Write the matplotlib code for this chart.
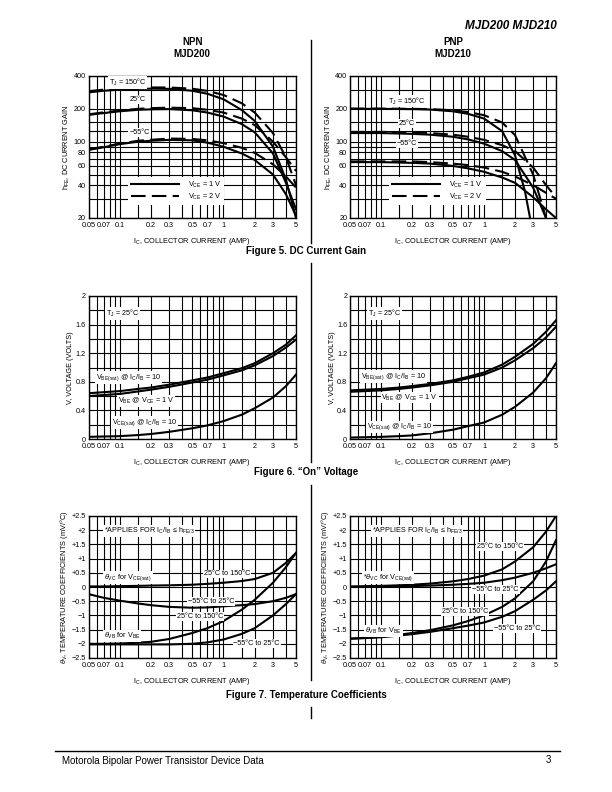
import matplotlib
matplotlib.use("Agg")
import matplotlib.pyplot as plt
from matplotlib.lines import Line2D
from matplotlib.ticker import NullFormatter

plt.rcParams['font.family'] = ['Liberation Sans', 'DejaVu Sans']
plt.rcParams['mathtext.fontset'] = 'custom'
plt.rcParams['mathtext.rm'] = 'Liberation Sans'
plt.rcParams['mathtext.it'] = 'Liberation Sans:italic'
plt.rcParams['mathtext.bf'] = 'Liberation Sans:bold'

# ---------------- data ----------------
IC = [0.05, 0.07, 0.1, 0.15, 0.2, 0.3, 0.5, 0.7, 1.0, 1.5, 2.0, 3.0, 4.0, 5.0]

# Figure 5, NPN MJD200 hFE
NPN_150_1V = [283, 293, 300, 305, 306, 305, 293, 275, 245, 195, 155, 90, 45, 20]
NPN_150_2V = [290, 300, 307, 312, 314, 314, 306, 292, 268, 225, 185, 120, 72, 40]
NPN_25_1V = [176, 183, 190, 196, 198, 199, 194, 185, 170, 145, 122, 78, 42, 24]
NPN_25_2V = [178, 186, 193, 200, 203, 205, 203, 196, 185, 163, 142, 100, 72, 54]
NPN_M55_1V = [84, 89, 95, 100, 102, 104, 103, 98, 90, 78, 68, 50, 33, 21]
NPN_M55_2V = [85, 90, 96, 102, 104, 107, 106, 103, 97, 88, 79, 62, 48, 38]

# Figure 5, PNP MJD210 hFE (curves leave the bottom of the chart early)
PNP_150_1V_IC = [0.05, 0.1, 0.2, 0.3, 0.5, 0.7, 1.0, 1.5, 2.0, 2.5, 2.8]
PNP_150_1V = [200, 200, 199, 197, 190, 180, 163, 125, 75, 35, 20]
PNP_150_2V_IC = [0.05, 0.1, 0.2, 0.3, 0.5, 0.7, 1.0, 1.5, 2.0, 3.0, 4.0]
PNP_150_2V = [201, 201, 200, 199, 194, 187, 175, 150, 115, 50, 20]
PNP_25_1V_IC = [0.05, 0.1, 0.2, 0.3, 0.5, 0.7, 1.0, 1.5, 2.0, 3.0, 4.0]
PNP_25_1V = [120, 120, 118, 116, 111, 105, 96, 82, 68, 38, 20]
PNP_25_2V_IC = [0.05, 0.1, 0.2, 0.3, 0.5, 0.7, 1.0, 1.5, 2.0, 3.0, 4.0, 5.0]
PNP_25_2V = [123, 123, 122, 120, 116, 111, 104, 93, 82, 58, 40, 31]
PNP_M55_1V_IC = [0.05, 0.1, 0.2, 0.3, 0.5, 0.7, 1.0, 1.5, 2.0, 3.0, 4.0, 5.0]
PNP_M55_1V = [65, 65, 64, 63, 60, 57, 53, 47, 42, 31, 24, 20]
PNP_M55_2V_IC = [0.05, 0.1, 0.2, 0.3, 0.5, 0.7, 1.0, 1.5, 2.0, 3.0, 4.0, 5.0]
PNP_M55_2V = [66, 66, 66, 65, 63, 61, 58, 53, 48, 40, 34, 30]

# Figure 6, "On" voltage
NPN_VBESAT = [0.64, 0.655, 0.67, 0.70, 0.72, 0.76, 0.82, 0.86, 0.92, 0.99, 1.06, 1.20, 1.32, 1.45]
NPN_VBE = [0.60, 0.615, 0.63, 0.665, 0.69, 0.73, 0.79, 0.83, 0.89, 0.96, 1.03, 1.16, 1.28, 1.39]
NPN_VCESAT = [0.03, 0.035, 0.04, 0.055, 0.07, 0.10, 0.15, 0.19, 0.25, 0.34, 0.43, 0.58, 0.74, 0.90]
PNP_VBESAT = [0.68, 0.69, 0.70, 0.72, 0.74, 0.77, 0.82, 0.87, 0.93, 1.04, 1.15, 1.33, 1.50, 1.66]
PNP_VBE = [0.66, 0.67, 0.68, 0.70, 0.72, 0.75, 0.80, 0.85, 0.90, 1.00, 1.10, 1.27, 1.42, 1.57]
PNP_VCESAT = [0.02, 0.025, 0.03, 0.04, 0.05, 0.08, 0.13, 0.18, 0.23, 0.34, 0.45, 0.65, 0.85, 1.06]

# Figure 7, temperature coefficients (mV/C)
NPN_TVC_HOT = [0.02, 0.02, 0.03, 0.04, 0.05, 0.06, 0.08, 0.11, 0.15, 0.21, 0.28, 0.50, 0.85, 1.20]
NPN_TVC_COLD = [-0.25, -0.38, -0.48, -0.58, -0.64, -0.70, -0.73, -0.72, -0.68, -0.64, -0.60, -0.50, -0.38, -0.25]
NPN_TVB_HOT = [-2.0, -2.0, -1.99, -1.96, -1.93, -1.83, -1.62, -1.45, -1.20, -0.80, -0.45, 0.15, 0.70, 1.20]
NPN_TVB_COLD = [-2.02, -2.02, -2.02, -2.02, -2.02, -2.02, -2.0, -1.95, -1.85, -1.65, -1.45, -1.00, -0.60, -0.25]
PNP_TVC_HOT = [0.02, 0.03, 0.04, 0.06, 0.08, 0.12, 0.20, 0.28, 0.40, 0.62, 0.90, 1.40, 1.95, 2.50]
PNP_TVC_COLD = [0.0, 0.0, 0.01, 0.02, 0.03, 0.05, 0.08, 0.11, 0.15, 0.24, 0.33, 0.50, 0.66, 0.80]
PNP_TVB_HOT = [-1.82, -1.79, -1.75, -1.68, -1.62, -1.52, -1.35, -1.20, -1.00, -0.70, -0.40, 0.20, 0.90, 1.65]
PNP_TVB_COLD = [-1.82, -1.80, -1.77, -1.71, -1.66, -1.58, -1.45, -1.36, -1.25, -1.05, -0.85, -0.45, -0.12, 0.20]

X_MAJOR = [0.05, 0.07, 0.1, 0.2, 0.3, 0.5, 0.7, 1, 2, 3, 5]
X_MAJOR_LBL = ["0.05", "0.07", "0.1", "0.2", "0.3", "0.5", "0.7", "1", "2", "3", "5"]
X_MINOR = [0.06, 0.08, 0.09, 0.15, 0.4, 0.6, 0.8, 0.9, 1.5, 4]
HFE_TICKS = [20, 40, 60, 80, 100, 200, 400]
HFE_MINOR = [30, 50, 70, 90, 125, 150, 300]
V_TICKS = [0, 0.4, 0.8, 1.2, 1.6, 2]
V_MINOR = [0.2, 0.6, 1.0, 1.4, 1.8]
TC_TICKS = [-2.5, -2, -1.5, -1, -0.5, 0, 0.5, 1, 1.5, 2, 2.5]
TC_LBL = ["\u22122.5", "\u22122", "\u22121.5", "\u22121", "\u22120.5", "0",
          "+0.5", "+1", "+1.5", "+2", "+2.5"]

W, H = 612, 792
fig = plt.figure(figsize=(W / 100, H / 100), dpi=100)

LW = 1.5
DASH = (0, (7, 3))
TFS = 5.2
BOX = dict(facecolor="white", edgecolor="none", pad=0.6)


def make_axes(x0, y0, x1, y1):
    return fig.add_axes([x0 / W, 1 - y1 / H, (x1 - x0) / W, (y1 - y0) / H])


def style(ax, yticks, ylabels, yminor, ylim, ylog, ylabel):
    ax.set_xscale("log")
    if ylog:
        ax.set_yscale("log")
    ax.set_xlim(0.05, 5)
    ax.set_ylim(*ylim)
    ax.set_xticks(X_MAJOR)
    ax.set_xticklabels(X_MAJOR_LBL)
    ax.set_xticks(X_MINOR, minor=True)
    ax.set_yticks(yticks)
    ax.set_yticklabels(ylabels)
    ax.set_yticks(yminor, minor=True)
    ax.xaxis.set_minor_formatter(NullFormatter())
    ax.yaxis.set_minor_formatter(NullFormatter())
    ax.tick_params(which="both", length=0, labelsize=TFS)
    ax.tick_params(axis="x", pad=3)
    ax.tick_params(axis="y", pad=2)
    ax.grid(True, which="both", color="black", lw=0.8)
    for s in ax.spines.values():
        s.set_linewidth(1.0)
    ax.set_xlabel(r"I$_{\rm C}$, COLLECTOR CURRENT (AMP)", fontsize=5.3, labelpad=5)
    ax.set_ylabel(ylabel, fontsize=5.3, labelpad=1)


def hfe_legend(ax):
    h = [Line2D([], [], color="black", lw=LW),
         Line2D([], [], color="black", lw=LW, linestyle=DASH)]
    leg = ax.legend(h, [r"V$_{\rm CE}$ = 1 V", r"V$_{\rm CE}$ = 2 V"],
                    loc="lower left", bbox_to_anchor=(0.19, 0.09),
                    fontsize=5.3, handlelength=6.5, frameon=True,
                    fancybox=False, borderpad=0.4, labelspacing=0.3,
                    handletextpad=1.2, borderaxespad=0)
    leg.get_frame().set_facecolor("white")
    leg.get_frame().set_edgecolor("none")
    leg.get_frame().set_alpha(1)


hfe_lbl = [str(v) for v in HFE_TICKS]
v_lbl = ["0", "0.4", "0.8", "1.2", "1.6", "2"]

# ---------------- Figure 5 ----------------
ax = make_axes(88.5, 76, 296, 218)
style(ax, HFE_TICKS, hfe_lbl, HFE_MINOR, (20, 400), True,
      r"h$_{\rm FE}$, DC CURRENT GAIN")
for y, ls in [(NPN_150_1V, "-"), (NPN_150_2V, DASH), (NPN_25_1V, "-"),
              (NPN_25_2V, DASH), (NPN_M55_1V, "-"), (NPN_M55_2V, DASH)]:
    ax.plot(IC, y, color="black", lw=LW, linestyle=ls)
ax.text(0.119, 350, r"T$_{\rm J}$ = 150°C", fontsize=TFS, ha="center", va="center", bbox=BOX)
ax.text(0.15, 243, "25°C", fontsize=TFS, ha="center", va="center", bbox=BOX)
ax.text(0.155, 121, "\u221255°C", fontsize=TFS, ha="center", va="center", bbox=BOX)
hfe_legend(ax)
ax.set_title("NPN\nMJD200", fontsize=7, fontweight="bold", pad=14, linespacing=1.2)

ax = make_axes(350, 76, 556, 218)
style(ax, HFE_TICKS, hfe_lbl, HFE_MINOR, (20, 400), True,
      r"h$_{\rm FE}$, DC CURRENT GAIN")
for x, y, ls in [(PNP_150_1V_IC, PNP_150_1V, "-"), (PNP_150_2V_IC, PNP_150_2V, DASH),
                 (PNP_25_1V_IC, PNP_25_1V, "-"), (PNP_25_2V_IC, PNP_25_2V, DASH),
                 (PNP_M55_1V_IC, PNP_M55_1V, "-"), (PNP_M55_2V_IC, PNP_M55_2V, DASH)]:
    ax.plot(x, y, color="black", lw=LW, linestyle=ls)
ax.text(0.178, 236, r"T$_{\rm J}$ = 150°C", fontsize=TFS, ha="center", va="center", bbox=BOX)
ax.text(0.178, 147, "25°C", fontsize=TFS, ha="center", va="center", bbox=BOX)
ax.text(0.178, 97, "\u221255°C", fontsize=TFS, ha="center", va="center", bbox=BOX)
hfe_legend(ax)
ax.set_title("PNP\nMJD210", fontsize=7, fontweight="bold", pad=14, linespacing=1.2)

# ---------------- Figure 6 ----------------
for x0, x1, vs, lbls in [
        (88.5, 296, (NPN_VBESAT, NPN_VBE, NPN_VCESAT),
         [(0.107, 1.75), (0.121, 0.86), (0.18, 0.53), (0.174, 0.23)]),
        (350, 556, (PNP_VBESAT, PNP_VBE, PNP_VCESAT),
         [(0.109, 1.76), (0.132, 0.875), (0.19, 0.58), (0.151, 0.17)])]:
    ax = make_axes(x0, 296, x1, 439)
    style(ax, V_TICKS, v_lbl, V_MINOR, (0, 2), False, "V, VOLTAGE (VOLTS)")
    for y in vs:
        ax.plot(IC, y, color="black", lw=LW)
    txt = [r"T$_{\rm J}$ = 25°C",
           r"V$_{\rm BE(sat)}$ @ I$_{\rm C}$/I$_{\rm B}$ = 10",
           r"V$_{\rm BE}$ @ V$_{\rm CE}$ = 1 V",
           r"V$_{\rm CE(sat)}$ @ I$_{\rm C}$/I$_{\rm B}$ = 10"]
    for (lx, ly), t in zip(lbls, txt):
        ax.text(lx, ly, t, fontsize=TFS, ha="center", va="center", bbox=BOX)

# ---------------- Figure 7 ----------------
tc_ylabel = r"$\theta_{\rm V}$, TEMPERATURE COEFFICIENTS (mV/°C)"
ax = make_axes(88.5, 516, 296, 658)
style(ax, TC_TICKS, TC_LBL, [], (-2.5, 2.5), False, tc_ylabel)
for y in (NPN_TVC_HOT, NPN_TVC_COLD, NPN_TVB_HOT, NPN_TVB_COLD):
    ax.plot(IC, y, color="black", lw=LW)
ax.text(0.07, 1.97, r"*APPLIES FOR I$_{\rm C}$/I$_{\rm B}$ ≤ h$_{\rm FE/3}$", fontsize=TFS, ha="left", va="center", bbox=BOX)
ax.text(0.071, 0.34, r"$\theta_{\rm VC}$ for V$_{\rm CE(sat)}$", fontsize=TFS, ha="left", va="center", bbox=BOX)
ax.text(1.08, 0.46, "25°C to 150°C", fontsize=TFS, ha="center", va="center", bbox=BOX)
ax.text(0.756, -0.5, "\u221255°C to 25°C", fontsize=TFS, ha="center", va="center", bbox=BOX)
ax.text(0.595, -1.04, "25°C to 150°C", fontsize=TFS, ha="center", va="center", bbox=BOX)
ax.text(0.07, -1.73, r"$\theta_{\rm VB}$ for V$_{\rm BE}$", fontsize=TFS, ha="left", va="center", bbox=BOX)
ax.text(2.09, -2.0, "\u221255°C to 25°C", fontsize=TFS, ha="center", va="center", bbox=BOX)

ax = make_axes(350, 516, 556, 658)
style(ax, TC_TICKS, TC_LBL, [], (-2.5, 2.5), False, tc_ylabel)
for y in (PNP_TVC_HOT, PNP_TVC_COLD, PNP_TVB_HOT, PNP_TVB_COLD):
    ax.plot(IC, y, color="black", lw=LW)
ax.text(0.081, 1.96, r"*APPLIES FOR I$_{\rm C}$/I$_{\rm B}$ ≤ h$_{\rm FE/3}$", fontsize=TFS, ha="left", va="center", bbox=BOX)
ax.text(1.44, 1.43, "25°C to 150°C", fontsize=TFS, ha="center", va="center", bbox=BOX)
ax.text(0.067, 0.33, r"*$\theta_{\rm VC}$ for V$_{\rm CE(sat)}$", fontsize=TFS, ha="left", va="center", bbox=BOX)
ax.text(1.29, -0.1, "\u221255°C to 25°C", fontsize=TFS, ha="center", va="center", bbox=BOX)
ax.text(0.656, -0.87, "25°C to 150°C", fontsize=TFS, ha="center", va="center", bbox=BOX)
ax.text(0.07, -1.54, r"$\theta_{\rm VB}$ for V$_{\rm BE}$", fontsize=TFS, ha="left", va="center", bbox=BOX)
ax.text(2.1, -1.46, "\u221255°C to 25°C", fontsize=TFS, ha="center", va="center", bbox=BOX)

# ---------------- page furniture ----------------
fig.text(557 / W, 1 - 26 / H, "MJD200 MJD210", fontsize=8.5, fontweight="heavy",
         style="italic", ha="right", va="center")
for cap, yy in [("Figure 5. DC Current Gain", 251),
                ("Figure 6. \u201cOn\u201d Voltage", 472),
                ("Figure 7. Temperature Coefficients", 695)]:
    fig.text(306 / W, 1 - yy / H, cap, fontsize=7, fontweight="bold", ha="center", va="center")

for ya, yb in [(40, 243), (263, 462), (485, 680), (707, 718)]:
    fig.add_artist(Line2D([310.5 / W, 310.5 / W], [1 - ya / H, 1 - yb / H],
                          color="black", lw=1.0))
fig.add_artist(Line2D([55 / W, 560 / W], [1 - 751 / H, 1 - 751 / H], color="black", lw=1.0))
fig.text(62 / W, 1 - 761 / H, "Motorola Bipolar Power Transistor Device Data",
         fontsize=7, ha="left", va="center")
fig.text(551 / W, 1 - 760 / H, "3", fontsize=7, ha="right", va="center")

fig.savefig("out.png", dpi=100)
